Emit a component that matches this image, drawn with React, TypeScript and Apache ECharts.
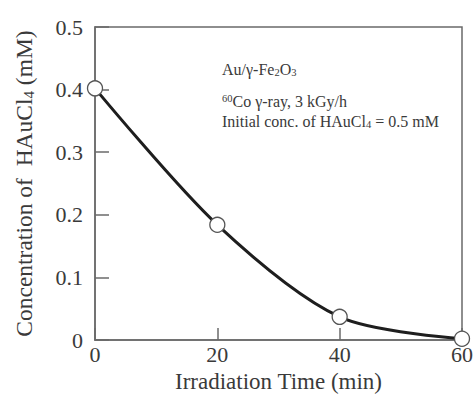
import React, { useEffect, useRef } from "react";
import * as echarts from "echarts";

const times = [0, 20, 40, 60];
const concentration = [0.402, 0.184, 0.037, 0.002];
const xTicks = [0, 20, 40, 60];
const yTicks = [0, 0.1, 0.2, 0.3, 0.4, 0.5];
const annotationLines = [
  "Au/γ-Fe{sub|2}O{sub|3}",
  "{sup|60}Co γ-ray, 3 kGy/h",
  "Initial conc. of HAuCl{sub|4} = 0.5 mM",
];

const SERIF = '"Liberation Serif", "DejaVu Serif", serif';
const TEXT = "#3a3a3a";
const AXIS = "#6a6a6a";

export default function App() {
  const ref = useRef<HTMLDivElement>(null);
  useEffect(() => {
    if (!ref.current) return;
    const chart = echarts.init(ref.current, null, { renderer: "svg" });
    const smallRich = {
      sub: { fontSize: 10.5, verticalAlign: "bottom", padding: [7, 0, 0, 0], fontFamily: SERIF, color: TEXT },
      sup: { fontSize: 10.5, verticalAlign: "top", padding: [0, 0, 6, 0], fontFamily: SERIF, color: TEXT },
    };
    const annY = [70, 102, 122];
    chart.setOption({
      animation: false,
      backgroundColor: "#ffffff",
      grid: {
        left: 95,
        top: 27,
        right: 11,
        bottom: 54,
        show: true,
        borderColor: AXIS,
        borderWidth: 1.5,
        backgroundColor: "transparent",
        containLabel: false,
        outerBoundsMode: "none",
      },
      xAxis: {
        type: "value",
        min: xTicks[0],
        max: xTicks[xTicks.length - 1],
        interval: 20,
        name: "Irradiation Time (min)",
        nameLocation: "middle",
        nameGap: 30,
        nameTextStyle: { fontFamily: SERIF, fontSize: 23, color: TEXT },
        axisLine: { show: true, lineStyle: { color: AXIS, width: 1.5 } },
        axisTick: { show: true, inside: true, length: 12, lineStyle: { color: AXIS, width: 1.5 } },
        axisLabel: { fontFamily: SERIF, fontSize: 22, color: TEXT, margin: 3 },
        splitLine: { show: false },
      },
      yAxis: {
        type: "value",
        min: yTicks[0],
        max: yTicks[yTicks.length - 1],
        interval: 0.1,
        name: "Concentration of  HAuCl{sub|4} (mM)",
        nameLocation: "middle",
        nameGap: 59,
        nameRotate: 90,
        nameTextStyle: {
          fontFamily: SERIF,
          fontSize: 23.5,
          color: TEXT,
          rich: {
            sub: { fontSize: 15, fontFamily: SERIF, color: TEXT, verticalAlign: "bottom", padding: [8, 0, 0, 0] },
          },
        },
        axisLine: { show: true, lineStyle: { color: AXIS, width: 1.5 } },
        axisTick: { show: true, inside: true, length: 14, lineStyle: { color: AXIS, width: 1.5 } },
        axisLabel: { fontFamily: SERIF, fontSize: 22, color: TEXT, margin: 12 },
        splitLine: { show: false },
      },
      graphic: annotationLines.map((line, i) => ({
        type: "text",
        left: 222,
        top: annY[i] - 9,
        silent: true,
        style: {
          text: line,
          fontFamily: SERIF,
          fontSize: 16,
          fill: TEXT,
          rich: smallRich,
        },
      })),
      series: [
        {
          type: "line",
          data: times.map((t, i) => [t, concentration[i]]),
          smooth: 0.3,
          symbol: "circle",
          symbolSize: 15,
          showAllSymbol: true,
          lineStyle: { color: "#1e1e1e", width: 3 },
          itemStyle: { color: "#ffffff", borderColor: "#555555", borderWidth: 1.3 },
          z: 5,
        },
      ],
    });
    return () => chart.dispose();
  }, []);
  return (
    <div
      ref={ref}
      style={{ position: "absolute", left: 0, top: 0, width: 473, height: 394 }}
    />
  );
}
